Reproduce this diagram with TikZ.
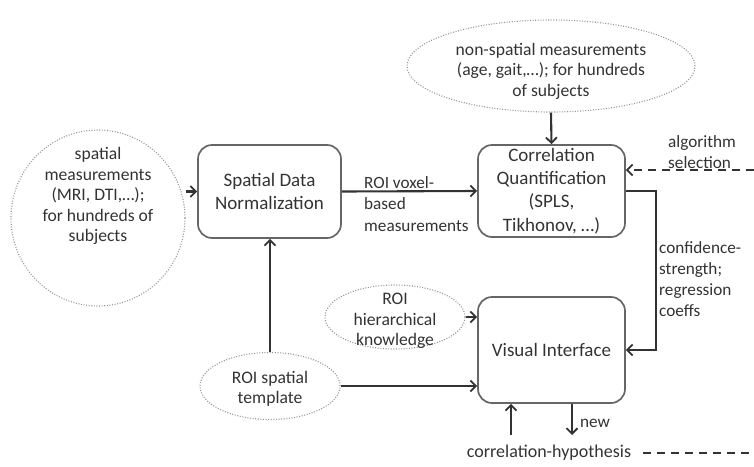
\documentclass[tikz,border=0pt]{standalone}
\usepackage{fontspec}
\setmainfont{Carlito}
\usetikzlibrary{arrows.meta,shapes.geometric}
\definecolor{ink}{HTML}{333333}
\definecolor{edge}{HTML}{666666}
\definecolor{dots}{HTML}{959595}
\tikzset{
  box/.style={draw=edge, line width=1.7pt, rounded corners=14pt, inner sep=2pt,
    align=center, text=ink, font=\fontsize{19}{23.3}\selectfont},
  ell/.style={ellipse, draw=dots, line width=1.1pt, dash pattern=on 1pt off 1.6pt, inner sep=0pt},
  txt/.style={text=ink, align=center, inner sep=0pt, font=\fontsize{17.6}{20.6}\selectfont},
  lbl/.style={text=ink, align=left, inner sep=0pt, anchor=west, font=\fontsize{17.2}{21.2}\selectfont},
  tip/.style={-{Straight Barb[length=5.5pt,width=11pt,line width=1.8pt]}},
  arr/.style={draw=ink, line width=2.1pt, tip},
  dashline/.style={draw=ink, line width=2pt, dash pattern=on 8pt off 6pt}
}
\begin{document}
\begin{tikzpicture}[x=1pt,y=-1pt]
\useasboundingbox (0,0) rectangle (754,466);

% processing boxes
\node[box, minimum width=143pt, minimum height=93pt] (sdn) at (269.5,191.5) {Spatial Data\\Normalization};
\node[box, minimum width=147pt, minimum height=92pt] (corr) at (551.5,191) {Correlation\\Quantification\\(SPLS,\\Tikhonov, \dots)};
\node[box, minimum width=147pt, minimum height=106pt] (vi) at (551.5,350) {Visual Interface};

% data sources (dotted ellipses)
\node[ell, minimum width=174pt, minimum height=176pt] (spm) at (98,218) {};
\node[txt] (spmtext) at (98,196) {spatial\\measurements\\(MRI, DTI,\dots);\\for hundreds of\\subjects};

\node[ell, minimum width=288pt, minimum height=92pt] (nsm) at (551,66) {};
\node[txt] (nsmtext) at (551,71) {non-spatial measurements\\(age, gait,\dots); for hundreds\\of subjects};

\node[ell, minimum width=140pt, minimum height=64pt] (hier) at (395,317) {};
\node[txt] (hiertext) at (395,321) {ROI\\hierarchical\\knowledge};

\node[ell, minimum width=140pt, minimum height=67pt] (tmpl) at (270,386) {};
\node[txt] (tmpltext) at (270,389) {ROI spatial\\template};

% free ends
\coordinate (algsrc) at (754,170);
\coordinate (hypup) at (511,435);
\coordinate (hypdown) at (572,435);
\coordinate (hypend) at (754,453);

% connectors
\draw[arr] (spm.east |- sdn.west) -- (sdn.west);
\draw[arr] (sdn.east) -- (corr.west);
\node[lbl] (voxlbl) at (364,204) {ROI voxel-\\based\\measurements};

\draw[arr] (nsm.south) -- (corr.north);

\draw[dashline, tip] (algsrc) -- (algsrc -| corr.east);
\node[lbl] (alglbl) at (668,152) {algorithm\\selection};

\draw[arr] (corr.east) -- ++(30,0) |- (vi.east);
\node[lbl] (conflbl) at (659,279) {confidence-\\strength;\\regression\\coeffs};

\draw[arr] (hier.east) -- (hier.east -| vi.west);
\draw[arr] (tmpl.east) -- (tmpl.east -| vi.west);
\draw[arr] (tmpl.north) -- (tmpl.north |- sdn.south);

\draw[arr] (hypup) -- (hypup |- vi.south);
\draw[arr] (hypdown |- vi.south) -- (hypdown);
\node[lbl] (newlbl) at (580,423) {new};

\node[txt, font=\fontsize{18}{21}\selectfont] (hyp) at (549,453) {correlation-hypothesis};
\draw[dashline] ([xshift=12pt]hyp.east) -- (hypend);
\end{tikzpicture}
\end{document}
